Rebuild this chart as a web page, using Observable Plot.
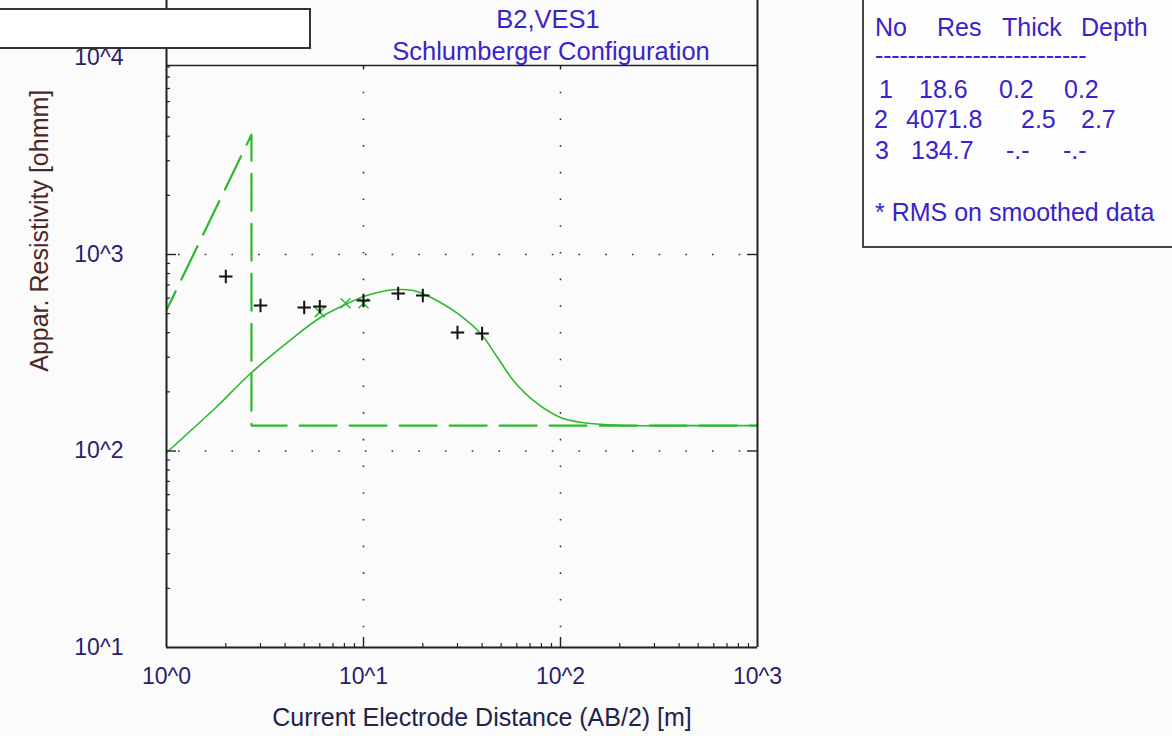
<!DOCTYPE html>
<html>
<head>
<meta charset="utf-8">
<script src="https://cdn.jsdelivr.net/npm/d3@7"></script>
<script src="https://cdn.jsdelivr.net/npm/@observablehq/plot@0.6"></script>
<style>
  html, body { margin: 0; padding: 0; background: #fbfbfb; }
  #wrap { position: relative; width: 1172px; height: 736px; overflow: hidden; background: #fbfbfb;
          font-family: "Liberation Sans", Arial, sans-serif; }
  #wrap svg { position: absolute; left: 0; top: 0; }
  .box { position: absolute; left: -6px; top: 8px; width: 313px; height: 37px; background: #ffffff;
         border: 2px solid #333; }
  .legend { position: absolute; left: 862px; top: -2px; width: 320px; height: 248px; background: #fdfdfd;
            border-left: 2px solid #444; border-bottom: 2px solid #444; }
  .lg { position: absolute; font-size: 25px; line-height: 25px; color: #3a23c8; white-space: pre; }
</style>
</head>
<body>
<div id="wrap"></div>
<script>
// ---------- data ----------
const titleLines = ["B2,VES1", "Schlumberger Configuration"];
const xTitle = "Current Electrode Distance (AB/2) [m]";
const yTitle = "Appar. Resistivity [ohmm]";

const xDecades = [1, 10, 100, 1000];
const yDecades = [10, 100, 1000, 10000];
const xMinor = [2, 3, 4, 5, 6, 7, 8, 9, 20, 30, 40, 50, 60, 70, 80, 90, 200, 300, 400, 500, 600, 700, 800, 900];
const yMinor = [20, 30, 40, 50, 60, 70, 80, 90, 200, 300, 400, 500, 600, 700, 800, 900, 2000, 3000, 4000, 5000, 6000, 7000, 8000, 9000];

// observed apparent resistivity (+)
const obsAB2 = [2, 3, 5, 6, 10, 15, 20, 30, 40];
const obsRho = [773, 550, 537, 543, 583, 634, 618, 401, 396];

// smoothed data (x)
const smAB2 = [6, 8.1, 10];
const smRho = [509, 565, 565];

// calculated model curve
const modelAB2 = [1, 1.18, 1.82, 2.67, 4.41, 6.05, 8.3, 10, 11.8, 14.2, 17.9, 19.9, 24.6, 30, 39.3, 47.9, 57.7, 76.4, 100, 126, 201, 400, 1000];
const modelRho = [98, 114, 170, 248, 378, 478, 563, 612, 641, 662, 656, 633, 570, 501, 396, 299, 228, 174, 148, 140, 135, 134.7, 134.7];

// layered model
const layerNo = ["1", "2", "3"];
const layerRes = [18.6, 4071.8, 134.7];
const layerThick = [0.2, 2.5];
const layerDepth = [0.2, 2.7];
const legendHeader = ["No", "Res", "Thick", "Depth"];
const legendNote = "* RMS on smoothed data";

// ---------- build ----------
const obs = obsAB2.map((x, i) => ({x, y: obsRho[i]}));
const sm = smAB2.map((x, i) => ({x, y: smRho[i]}));
const model = modelAB2.map((x, i) => ({x, y: modelRho[i]}));
const step = [
  {x: layerDepth[0], y: layerRes[0]},
  {x: layerDepth[1], y: layerRes[1]},
  {x: layerDepth[1], y: layerRes[2]},
  {x: xDecades[xDecades.length - 1], y: layerRes[2]}
];

const W = 1172, H = 736;
const mL = 166, mR = 415, mT = 57.5, mB = 89;
const fW = W - mL - mR, fH = H - mT - mB;
const green = "#2eb82e";
const ink = "#222";
const decadeLabel = d => "10^" + Math.round(Math.log10(d));

const chart = Plot.plot({
  width: W, height: H,
  marginLeft: mL, marginRight: mR, marginTop: mT, marginBottom: mB,
  x: {type: "log", domain: [1, 1000], label: null},
  y: {type: "log", domain: [10, 10000], label: null},
  style: {background: "transparent", fontFamily: "'Liberation Sans', Arial, sans-serif", overflow: "visible"},
  marks: [
    // dotted grid
    Plot.ruleX([10, 100], {stroke: "#333", strokeWidth: 1.6, strokeDasharray: "1.6,25.1", insetTop: 7.5}),
    Plot.ruleY([100, 1000], {stroke: "#333", strokeWidth: 1.6, strokeDasharray: "1.6,25.1", strokeDashoffset: -12}),
    // layered model (dashed)
    Plot.line(step, {x: "x", y: "y", stroke: green, strokeWidth: 2.2, strokeDasharray: "37,13", clip: true}),
    // calculated curve
    Plot.line(model, {x: "x", y: "y", stroke: green, strokeWidth: 1.6, curve: "catmull-rom"}),
    // smoothed data
    Plot.dot(sm, {x: "x", y: "y", symbol: "times", r: 4.6, stroke: green, strokeWidth: 1.5}),
    // observed data
    Plot.dot(obs, {x: "x", y: "y", symbol: "plus", r: 4.4, stroke: "#111", strokeWidth: 2}),
    // frame lines
    Plot.ruleX([1, 1000], {stroke: ink, strokeWidth: 2, insetTop: -mT - 2}),
    Plot.ruleY([10], {stroke: ink, strokeWidth: 2}),
    Plot.ruleY([10000], {stroke: ink, strokeWidth: 1.6, dy: 7.5}),
    // ticks
    Plot.tickX(xMinor, {x: d => d, stroke: ink, strokeWidth: 1.2, insetTop: fH - 4}),
    Plot.tickX([10, 100], {x: d => d, stroke: ink, strokeWidth: 1.4, insetTop: fH - 10}),
    Plot.tickX([10, 100], {x: d => d, stroke: ink, strokeWidth: 1.4, insetTop: 7.5, insetBottom: fH - 12}),
    Plot.tickY(yMinor, {y: d => d, stroke: ink, strokeWidth: 1.2, insetRight: fW - 4}),
    Plot.tickY([100, 1000], {y: d => d, stroke: ink, strokeWidth: 1.4, insetRight: fW - 10}),
    Plot.tickY([100, 1000], {y: d => d, stroke: ink, strokeWidth: 1.4, insetLeft: fW - 10}),
    // tick labels
    Plot.axisX(xDecades, {tickSize: 0, tickPadding: 20, tickFormat: decadeLabel, fontSize: 23, fill: "#2a1d6c", label: null}),
    Plot.axisY(yDecades, {tickSize: 0, tickPadding: 43, tickFormat: decadeLabel, fontSize: 23, fill: "#2a1d6c", label: null}),
    // titles
    Plot.text([titleLines[0]], {frameAnchor: "top", text: d => d, dx: 86, dy: -38.5, lineAnchor: "middle", textAnchor: "middle", fontSize: 25.5, fill: "#3a23c8"}),
    Plot.text([titleLines[1]], {frameAnchor: "top", text: d => d, dx: 89, dy: -6.5, lineAnchor: "middle", textAnchor: "middle", fontSize: 25.5, fill: "#3a23c8"}),
    Plot.text([xTitle], {frameAnchor: "bottom", text: d => d, dx: 20, dy: 70, lineAnchor: "middle", textAnchor: "middle", fontSize: 25, fill: "#22224a"}),
    Plot.text([yTitle], {frameAnchor: "left", text: d => d, rotate: -90, dx: -127, dy: -122, lineAnchor: "middle", textAnchor: "middle", fontSize: 25, fill: "#4b2626"})
  ]
});

const wrap = document.getElementById("wrap");
wrap.appendChild(chart);

// top-left empty box
const box = document.createElement("div");
box.className = "box";
wrap.appendChild(box);

// layer legend table
const legend = document.createElement("div");
legend.className = "legend";
wrap.appendChild(legend);

const fmt1 = v => v.toFixed(1);
const rowsText = [
  legendHeader,
  [layerNo[0], fmt1(layerRes[0]), fmt1(layerThick[0]), fmt1(layerDepth[0])],
  [layerNo[1], fmt1(layerRes[1]), fmt1(layerThick[1]), fmt1(layerDepth[1])],
  [layerNo[2], fmt1(layerRes[2]), "-.-", "-.-"]
];
// layout (absolute page coordinates of each cell's left edge, and row centers)
const cellLeft = [
  [873, 935, 1000, 1079],
  [877, 917, 997, 1062],
  [872, 904, 1019, 1079],
  [873, 909, 1004, 1061]
];
const rowCenter = [27, 89, 119, 150];
function addLg(text, left, center, extra) {
  const s = document.createElement("span");
  s.className = "lg";
  s.textContent = text;
  s.style.left = (left - 862) + "px";
  s.style.top = (center - 12.5 + 2) + "px";
  if (extra) s.style.letterSpacing = extra;
  legend.appendChild(s);
}
rowsText.forEach((row, r) => row.forEach((t, c) => addLg(t, cellLeft[r][c], rowCenter[r])));
addLg("--------------------------", 873, 55, "-0.2px");
addLg(legendNote, 873, 212);
</script>
</body>
</html>
